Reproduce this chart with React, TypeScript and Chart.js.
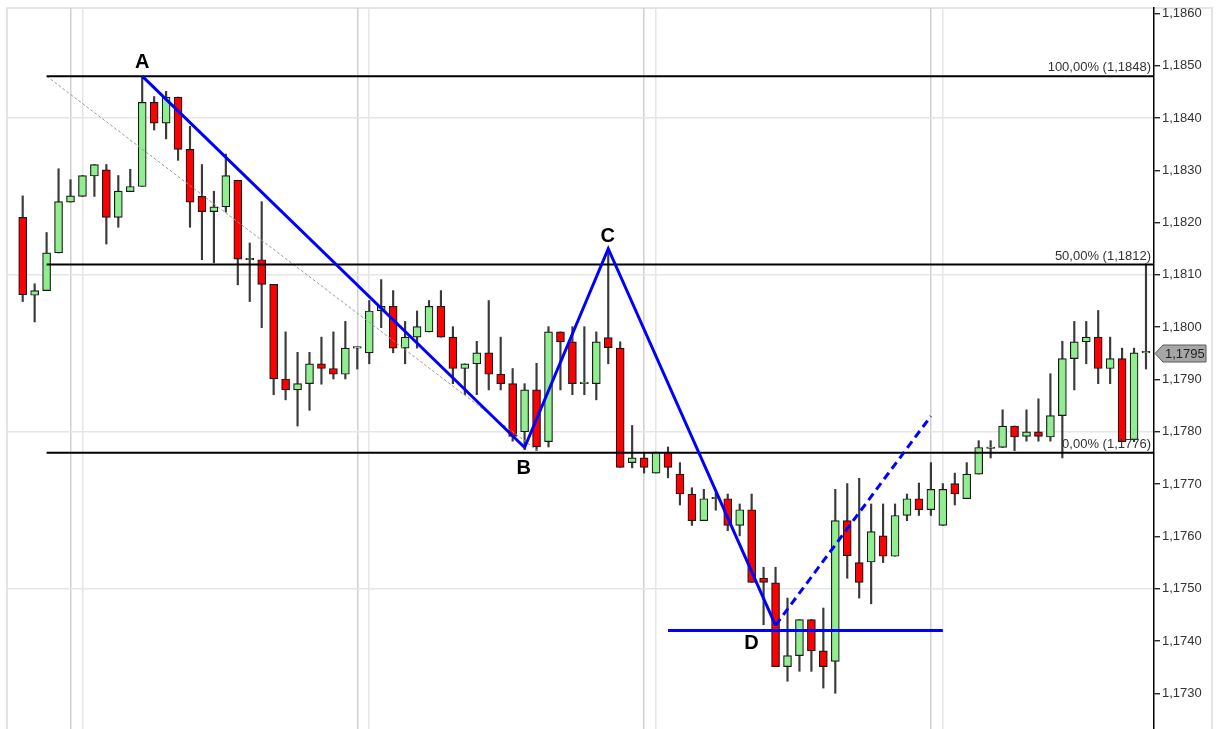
import React, { useEffect, useRef } from 'react';
import { Chart, registerables } from 'chart.js';

Chart.register(...registerables);

// ---- Candle data (index 0..94) ----
const opens = [
  1.18210, 1.18061, 1.18070, 1.18142, 1.18239, 1.18250, 1.18289, 1.18301, 1.18210, 1.18259,
  1.18269, 1.18430, 1.18390, 1.18440, 1.18340, 1.18250, 1.18221, 1.18230, 1.18281, 1.18129,
  1.18129, 1.18082, 1.17901, 1.17880, 1.17892, 1.17930, 1.17921, 1.17910, 1.17960, 1.17951,
  1.18031, 1.18040, 1.17960, 1.17981, 1.17991, 1.18040, 1.17981, 1.17921, 1.17930, 1.17951,
  1.17910, 1.17892, 1.17800, 1.17880, 1.17781, 1.17991, 1.17972, 1.17892, 1.17892, 1.17980,
  1.17960, 1.17741, 1.17750, 1.17721, 1.17761, 1.17719, 1.17681, 1.17630, 1.17672, 1.17672,
  1.17621, 1.17651, 1.17520, 1.17511, 1.17351, 1.17372, 1.17441, 1.17381, 1.17361, 1.17630,
  1.17550, 1.17551, 1.17601, 1.17562, 1.17640, 1.17672, 1.17651, 1.17621, 1.17701, 1.17672,
  1.17719, 1.17768, 1.17770, 1.17811, 1.17791, 1.17800, 1.17790, 1.17831, 1.17940, 1.17972,
  1.17981, 1.17921, 1.17940, 1.17785, 1.17951,
];
const highs = [
  1.18251, 1.18083, 1.18181, 1.18303, 1.18282, 1.18290, 1.18311, 1.18311, 1.18290, 1.18302,
  1.18478, 1.18441, 1.18451, 1.18440, 1.18384, 1.18311, 1.18260, 1.18331, 1.18281, 1.18161,
  1.18240, 1.18082, 1.17991, 1.17952, 1.17952, 1.17981, 1.17991, 1.18011, 1.17962, 1.18051,
  1.18091, 1.18070, 1.18011, 1.18031, 1.18051, 1.18070, 1.18001, 1.17930, 1.17973, 1.18051,
  1.17981, 1.17921, 1.17892, 1.17931, 1.18001, 1.17991, 1.18001, 1.18001, 1.17991, 1.18148,
  1.17972, 1.17812, 1.17759, 1.17761, 1.17771, 1.17741, 1.17693, 1.17690, 1.17683, 1.17681,
  1.17662, 1.17681, 1.17541, 1.17541, 1.17482, 1.17441, 1.17441, 1.17463, 1.17690, 1.17701,
  1.17711, 1.17662, 1.17662, 1.17662, 1.17681, 1.17702, 1.17741, 1.17701, 1.17721, 1.17741,
  1.17783, 1.17783, 1.17842, 1.17811, 1.17842, 1.17863, 1.17911, 1.17973, 1.18011, 1.18011,
  1.18032, 1.17981, 1.17960, 1.17960, 1.18121,
];
const lows = [
  1.18049, 1.18010, 1.18070, 1.18142, 1.18239, 1.18250, 1.18250, 1.18159, 1.18191, 1.18259,
  1.18269, 1.18377, 1.18360, 1.18319, 1.18191, 1.18129, 1.18123, 1.18220, 1.18081, 1.18049,
  1.17999, 1.17871, 1.17861, 1.17811, 1.17841, 1.17891, 1.17901, 1.17901, 1.17920, 1.17930,
  1.17999, 1.17951, 1.17930, 1.17960, 1.17991, 1.17981, 1.17892, 1.17871, 1.17871, 1.17880,
  1.17880, 1.17782, 1.17766, 1.17764, 1.17771, 1.17880, 1.17871, 1.17871, 1.17861, 1.17930,
  1.17732, 1.17731, 1.17721, 1.17721, 1.17712, 1.17660, 1.17621, 1.17630, 1.17650, 1.17611,
  1.17601, 1.17512, 1.17431, 1.17351, 1.17323, 1.17342, 1.17342, 1.17310, 1.17300, 1.17520,
  1.17482, 1.17471, 1.17550, 1.17562, 1.17630, 1.17640, 1.17640, 1.17621, 1.17660, 1.17672,
  1.17719, 1.17750, 1.17770, 1.17764, 1.17782, 1.17782, 1.17782, 1.17750, 1.17880, 1.17930,
  1.17892, 1.17892, 1.17781, 1.17781, 1.17920,
];
const closes = [
  1.18062, 1.18070, 1.18142, 1.18240, 1.18251, 1.18290, 1.18311, 1.18210, 1.18260, 1.18269,
  1.18430, 1.18390, 1.18440, 1.18340, 1.18239, 1.18221, 1.18230, 1.18290, 1.18130, 1.18129,
  1.18082, 1.17901, 1.17880, 1.17892, 1.17930, 1.17921, 1.17910, 1.17960, 1.17960, 1.18031,
  1.18040, 1.17960, 1.17981, 1.18001, 1.18040, 1.17981, 1.17921, 1.17930, 1.17951, 1.17910,
  1.17892, 1.17791, 1.17880, 1.17771, 1.17991, 1.17972, 1.17892, 1.17892, 1.17972, 1.17961,
  1.17732, 1.17750, 1.17732, 1.17761, 1.17732, 1.17681, 1.17630, 1.17672, 1.17672, 1.17621,
  1.17651, 1.17512, 1.17512, 1.17351, 1.17372, 1.17441, 1.17381, 1.17351, 1.17630, 1.17563,
  1.17512, 1.17609, 1.17562, 1.17640, 1.17672, 1.17651, 1.17690, 1.17690, 1.17681, 1.17719,
  1.17770, 1.17770, 1.17811, 1.17790, 1.17800, 1.17791, 1.17831, 1.17940, 1.17972, 1.17981,
  1.17921, 1.17940, 1.17781, 1.17951, 1.17951,
];

// ---- Axis ticks / grid ----
const yTickValues = [1.173, 1.174, 1.175, 1.176, 1.177, 1.178, 1.179, 1.18, 1.181, 1.182, 1.183, 1.184, 1.185, 1.186];
const yGridValues = [1.175, 1.178, 1.181, 1.184];
const xGridCandles = [4, 5, 28, 29, 52, 53, 76, 77];

// ---- Fibonacci retracement ----
const fibLevels = [1.1848, 1.1812, 1.1776];
const fibLabels = ['100,00% (1,1848)', '50,00% (1,1812)', '0,00% (1,1776)'];
const fibStartX = 2;
const trendX = [2, 43.3];
const trendY = [1.1848, 1.1776];

// ---- ABCD pattern ----
const patternLabels = ['A', 'B', 'C', 'D'];
const patternX = [10, 42, 49, 63];
const patternY = [1.1848, 1.1777, 1.1815, 1.1743];
const projectionX = [63, 76];
const projectionY = [1.1743, 1.1783];
const supportX = [54, 77];
const supportY = [1.1742, 1.1742];

const X_MIN = -1.314;
const X_MAX = 94.67;
const Y_MIN = 1.172317;
const Y_MAX = 1.186103;

const FONT = 'Arial, "Liberation Sans", Helvetica, sans-serif';

const fmt = (v: number) => Number(v).toFixed(4).replace('.', ',');

const overlayPlugin = {
  id: 'overlay',
  afterDatasetsDraw(chart: any) {
    const { ctx, chartArea, scales } = chart;
    const xs = scales.x;
    const ys = scales.y;
    ctx.save();
    // fib labels
    ctx.font = `13px ${FONT}`;
    ctx.fillStyle = '#333333';
    ctx.textAlign = 'right';
    ctx.textBaseline = 'middle';
    fibLevels.forEach((lv, i) => {
      ctx.fillText(fibLabels[i], chartArea.right - 3, ys.getPixelForValue(lv) - 8.5);
    });
    // pattern labels
    const offsets = [
      [0, -13.5],
      [-1, 21],
      [-0.5, -12.5],
      [-24, 18],
    ];
    ctx.font = `bold 20px ${FONT}`;
    ctx.fillStyle = '#000000';
    ctx.textAlign = 'center';
    patternLabels.forEach((lab, i) => {
      const px = xs.getPixelForValue(patternX[i]) + offsets[i][0];
      const py = ys.getPixelForValue(patternY[i]) + offsets[i][1];
      ctx.fillText(lab, px, py);
    });
    ctx.restore();
  },
  afterDraw(chart: any) {
    const { ctx, chartArea, scales } = chart;
    const ys = scales.y;
    const last = closes[closes.length - 1];
    const py = Math.round(ys.getPixelForValue(last)) + 0.5;
    const l = chartArea.right + 1;
    const r = 1206;
    const h = 8.5;
    ctx.save();
    ctx.beginPath();
    ctx.moveTo(l, py);
    ctx.lineTo(l + 8, py - h);
    ctx.lineTo(r, py - h);
    ctx.lineTo(r, py + h);
    ctx.lineTo(l + 8, py + h);
    ctx.closePath();
    ctx.fillStyle = '#a6a6a6';
    ctx.fill();
    ctx.strokeStyle = '#5a5a5a';
    ctx.lineWidth = 1;
    ctx.stroke();
    ctx.font = `13px ${FONT}`;
    ctx.fillStyle = '#222222';
    ctx.textAlign = 'left';
    ctx.textBaseline = 'middle';
    ctx.fillText(fmt(last), 1165, py + 0.5);
    ctx.restore();
  },
};

export default function App() {
  const canvasRef = useRef<HTMLCanvasElement | null>(null);

  useEffect(() => {
    if (!canvasRef.current) return;
    const idx = opens.map((_, i) => i);
    const wickData = idx.map((i) => ({ x: i, y: [lows[i], highs[i]] }));
    const bodyData = idx.map((i) => ({
      x: i,
      y: [Math.min(opens[i], closes[i]), Math.max(opens[i], closes[i])],
    }));
    const bodyColors = idx.map((i) => (closes[i] < opens[i] ? '#ff0000' : '#90ee90'));

    const line = (xsArr: number[], ysArr: number[]) => xsArr.map((x, i) => ({ x, y: ysArr[i] }));

    const fibDatasets = fibLevels.map((lv) => ({
      type: 'line',
      data: [
        { x: fibStartX, y: lv },
        { x: X_MAX, y: lv },
      ],
      borderColor: '#000000',
      borderWidth: 2,
      pointRadius: 0,
      fill: false,
      order: 2,
    }));

    const chart = new Chart(canvasRef.current, {
      type: 'bar',
      data: {
        datasets: [
          {
            type: 'line',
            data: line(patternX, patternY),
            borderColor: '#0000ff',
            borderWidth: 3,
            borderJoinStyle: 'miter',
            pointRadius: 0,
            fill: false,
            order: 0,
          },
          {
            type: 'line',
            data: line(projectionX, projectionY),
            borderColor: '#0000ff',
            borderWidth: 3,
            borderDash: [8, 5],
            pointRadius: 0,
            fill: false,
            order: 0,
          },
          {
            type: 'line',
            data: line(supportX, supportY),
            borderColor: '#0000ff',
            borderWidth: 3,
            pointRadius: 0,
            fill: false,
            order: 1,
          },
          ...fibDatasets,
          {
            type: 'line',
            data: line(trendX, trendY),
            borderColor: '#9a9a9a',
            borderWidth: 1,
            borderDash: [3, 2],
            pointRadius: 0,
            fill: false,
            order: 3,
          },
          {
            type: 'bar',
            data: bodyData,
            backgroundColor: bodyColors,
            borderColor: '#1a1a1a',
            borderWidth: 1.2,
            borderSkipped: false,
            barThickness: 8,
            minBarLength: 1.5,
            grouped: false,
            order: 4,
          },
          {
            type: 'bar',
            data: wickData,
            backgroundColor: '#3a3a3a',
            borderWidth: 0,
            barThickness: 1.5,
            grouped: false,
            order: 5,
          },
        ] as any,
      },
      options: {
        animation: false,
        responsive: false,
        devicePixelRatio: 1,
        events: [],
        layout: { padding: { left: 7, top: 8, right: 0, bottom: 0 } },
        plugins: {
          legend: { display: false },
          tooltip: { enabled: false },
          title: { display: false },
        },
        scales: {
          x: {
            type: 'linear',
            min: X_MIN,
            max: X_MAX,
            offset: false,
            afterBuildTicks: (s: any) => {
              s.ticks = xGridCandles.map((v) => ({ value: v }));
            },
            afterFit: (s: any) => {
              s.height = 0;
              s.paddingLeft = 0;
              s.paddingRight = 0;
            },
            ticks: { display: false },
            grid: {
              offset: false,
              drawTicks: false,
              color: (c: any) => (c.index % 2 === 0 ? '#d0d0d0' : '#e6e6e6'),
              lineWidth: 1.5,
            },
            border: { display: false },
          },
          y: {
            type: 'linear',
            position: 'right',
            min: Y_MIN,
            max: Y_MAX,
            afterBuildTicks: (s: any) => {
              s.ticks = yTickValues.map((v) => ({ value: v }));
            },
            afterFit: (s: any) => {
              s.width = 63;
              s.paddingTop = 0;
              s.paddingBottom = 0;
            },
            ticks: {
              autoSkip: false,
              padding: 2,
              color: '#333333',
              font: { family: FONT, size: 13 },
              callback: (v: any) => fmt(Number(v)),
            },
            grid: {
              color: (c: any) =>
                c.tick && yGridValues.some((g) => Math.abs(g - c.tick.value) < 1e-7)
                  ? '#e6e6e6'
                  : 'rgba(0,0,0,0)',
              lineWidth: 1.5,
              tickColor: '#000000',
              tickLength: 6,
              tickWidth: 1.2,
            },
            border: { display: true, color: '#000000', width: 1.5 },
          },
        },
      } as any,
      plugins: [overlayPlugin],
    });
    return () => chart.destroy();
  }, []);

  return (
    <div style={{ position: 'absolute', left: 0, top: 0, width: 1217, height: 729, background: '#ffffff', overflow: 'hidden' }}>
      <div
        style={{
          position: 'absolute',
          left: 6,
          top: 7,
          width: 1207,
          height: 760,
          boxSizing: 'border-box',
          border: '2px solid #e4e4e4',
        }}
      />
      <canvas
        ref={canvasRef}
        width={1217}
        height={729}
        style={{ position: 'absolute', left: 0, top: 0, width: 1217, height: 729, display: 'block' }}
      />
    </div>
  );
}
